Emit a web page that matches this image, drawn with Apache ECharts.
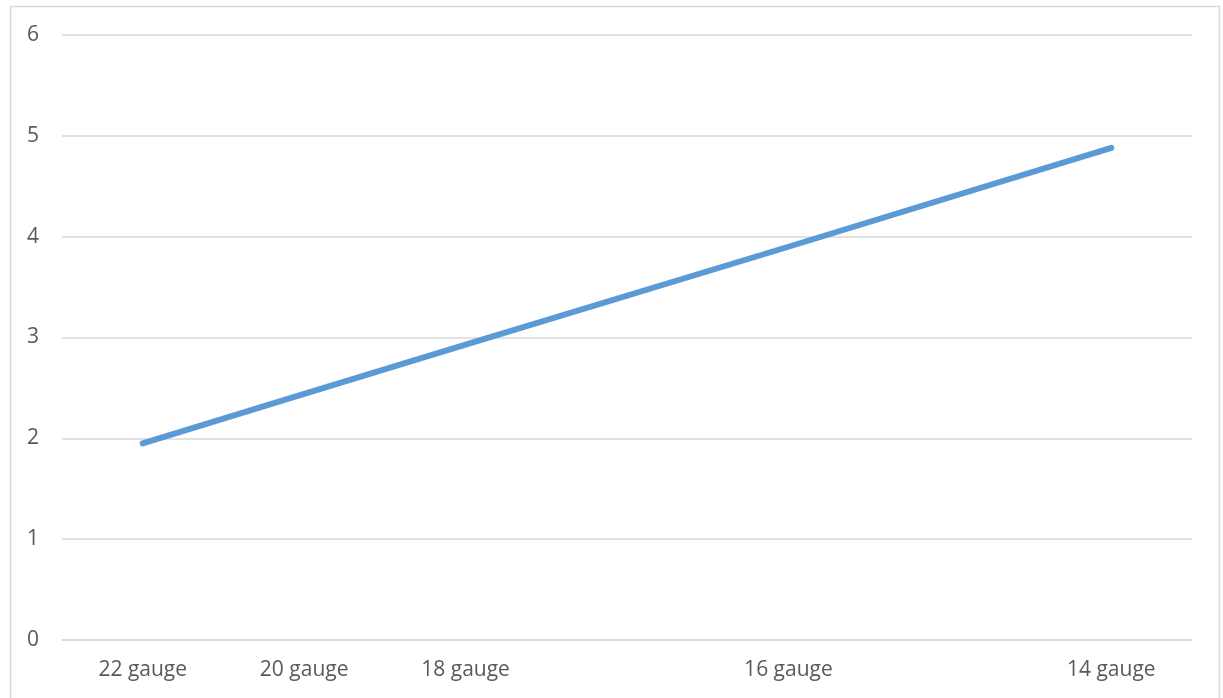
<!DOCTYPE html>
<html>
<head>
<meta charset="utf-8">
<script src="https://cdn.jsdelivr.net/npm/echarts@6/dist/echarts.min.js"></script>
<style>
  html, body { margin: 0; padding: 0; background: #fff; }
  #chart { width: 1223px; height: 698px; }
</style>
</head>
<body>
<div id="chart"></div>
<script>
// categories (two blank slots keep the uneven spacing of the original)
var categories = ['22 gauge', '20 gauge', '18 gauge', '', '16 gauge', '', '14 gauge'];
var values = [1.95, 2.44, 2.93, null, 3.90, null, 4.88];
var yTicks = [0, 1, 2, 3, 4, 5, 6];

var chart = echarts.init(document.getElementById('chart'));
var option = {
    animation: false,
    backgroundColor: '#fff',
    graphic: [{
        type: 'rect',
        shape: { x: 10.5, y: 6.5, width: 1209, height: 700 },
        style: { fill: 'none', stroke: '#d9d9d9', lineWidth: 1.5 },
        silent: true
    }],
    grid: { left: 62, right: 31, top: 35, bottom: 58 },
    xAxis: {
        type: 'category',
        data: categories,
        boundaryGap: true,
        axisLine: { show: true, lineStyle: { color: '#d9d9d9', width: 1.5 } },
        axisTick: { show: false },
        axisLabel: {
            interval: 0,
            margin: 20,
            color: '#595959',
            fontSize: 21,
            fontFamily: 'Open Sans'
        }
    },
    yAxis: {
        type: 'value',
        min: yTicks[0],
        max: yTicks[yTicks.length - 1],
        interval: 1,
        axisLine: { show: false },
        axisTick: { show: false },
        axisLabel: {
            margin: 23,
            color: '#595959',
            fontSize: 21,
            fontFamily: 'Open Sans'
        },
        splitLine: { lineStyle: { color: '#d9d9d9', width: 1.5 } }
    },
    series: [{
        type: 'line',
        data: values,
        connectNulls: true,
        showSymbol: false,
        symbol: 'none',
        lineStyle: { color: '#5b9bd5', width: 6, cap: 'round' }
    }]
};
chart.setOption(option);
</script>
</body>
</html>
